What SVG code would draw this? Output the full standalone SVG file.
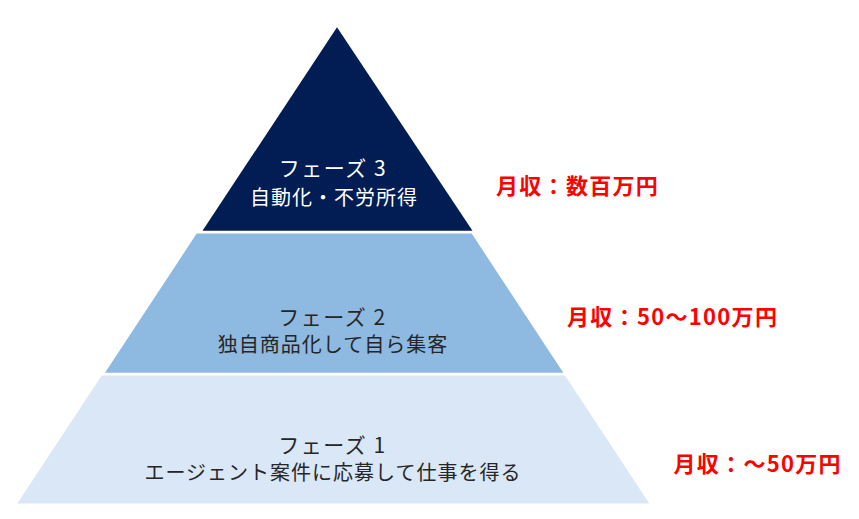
<svg xmlns="http://www.w3.org/2000/svg" width="859" height="519" viewBox="0 0 859 519">
  <style>
    .ttl { font-family: "Noto Sans CJK JP", "Noto Sans", sans-serif; font-size: 21px; letter-spacing: 1.5px; text-anchor: middle; }
    .lbl { font-family: "Noto Sans CJK JP", "Noto Sans", sans-serif; font-size: 20px; letter-spacing: 1px; text-anchor: middle; }
    .dark { fill: #262626; }
    .light { fill: #FFFFFF; }
    .income { font-family: "Noto Sans CJK JP", "Noto Sans", sans-serif; font-size: 22px; font-weight: bold; letter-spacing: 1.3px; fill: #FF0000; }
  </style>
  <rect width="859" height="519" fill="#FFFFFF"/>
  <g id="phase3">
    <polygon points="337,27.3 202.5,230.8 472.5,230.8" fill="#021D53"/>
    <text class="ttl light" x="333" y="176">フェーズ 3</text>
    <text class="lbl light" x="334" y="204.5">自動化・不労所得</text>
  </g>
  <g id="phase2">
    <polygon points="196.7,233.6 471.7,233.6 563.3,372.7 105,372.7" fill="#8EB9E1"/>
    <text class="ttl dark" x="332.5" y="325">フェーズ 2</text>
    <text class="lbl dark" x="333" y="352">独自商品化して自ら集客</text>
  </g>
  <g id="phase1">
    <polygon points="101.7,375.6 565,375.6 649.3,503.6 17.3,503.6" fill="#D9E7F6"/>
    <text class="ttl dark" x="332.5" y="452.5">フェーズ 1</text>
    <text class="lbl dark" x="333" y="480">エージェント案件に応募して仕事を得る</text>
  </g>
  <g id="income3">
    <text class="income" x="496" y="193.5">月収：数百万円</text>
  </g>
  <g id="income2">
    <text class="income" x="567" y="325">月収：50～100万円</text>
  </g>
  <g id="income1">
    <text class="income" x="673.5" y="471.5">月収：～50万円</text>
  </g>
  <g id="connectors"/>
</svg>
